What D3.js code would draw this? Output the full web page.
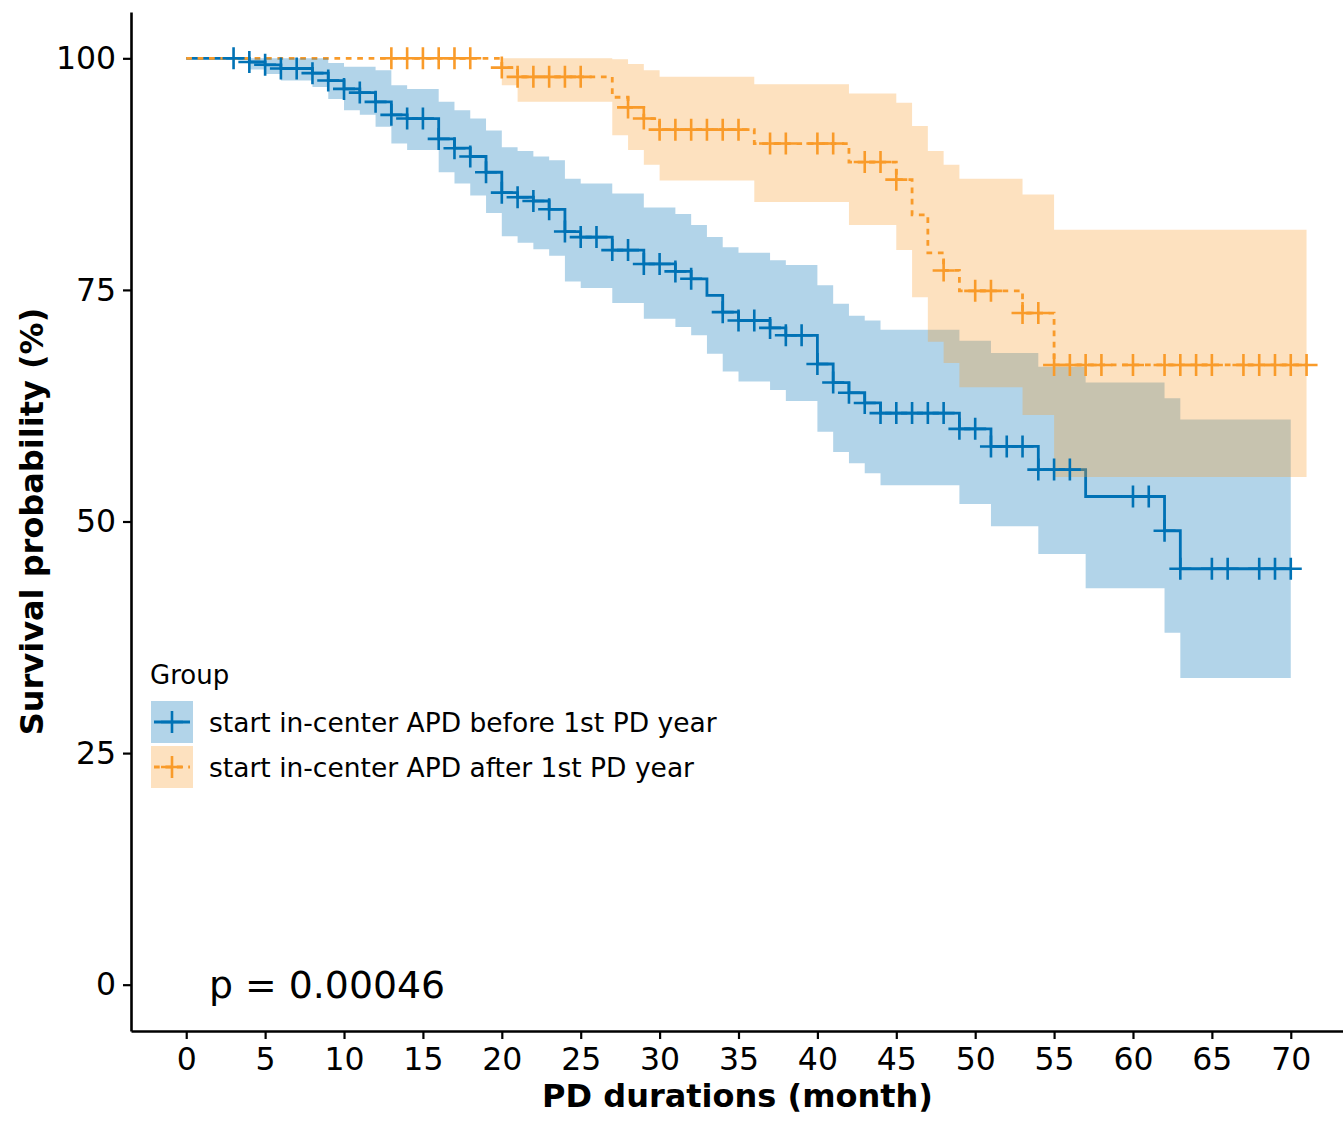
<!DOCTYPE html>
<html>
<head>
<meta charset="utf-8">
<script src="https://cdn.jsdelivr.net/npm/d3@7/dist/d3.min.js"></script>
<style>
  body { margin: 0; background: #fff; }
  text { font-family: "DejaVu Sans", sans-serif; fill: #000; }
</style>
</head>
<body>
<div id="km_svg"></div>
<script>
// groups
var groupNames = ["start in-center APD before 1st PD year", "start in-center APD after 1st PD year"];
var groupColors = ["#0072B5", "#F99B2A"];

// before 1st PD year: step times (month), survival %, 95% CI
var beforeTime  = [0, 4, 5, 6, 8, 9, 10, 11, 12, 13, 14, 16, 17, 18, 19, 20, 21, 22, 23, 24, 25, 27, 29, 31, 32, 33, 34, 35, 37, 38, 40, 41, 42, 43, 44, 49, 51, 54, 57, 62, 63, 70];
var beforeSurv  = [100, 99.6, 99.3, 98.9, 98.4, 97.6, 96.7, 96.3, 95.3, 93.9, 93.5, 91.3, 90.3, 89.4, 87.7, 85.5, 85.0, 84.6, 83.7, 81.3, 80.7, 79.3, 77.8, 77.0, 76.2, 74.4, 72.6, 71.7, 70.9, 70.1, 67.0, 65.0, 63.9, 62.8, 61.7, 60.0, 58.1, 55.6, 52.7, 49.0, 44.9, 44.9];
var beforeLower = [100, 98.8, 98.3, 97.6, 96.9, 95.6, 94.4, 93.9, 92.6, 90.8, 90.1, 87.7, 86.5, 85.2, 83.3, 80.8, 80.1, 79.4, 78.7, 75.9, 75.2, 73.6, 71.9, 71.0, 70.1, 68.1, 66.2, 65.1, 64.2, 63.0, 59.7, 57.5, 56.3, 55.2, 53.9, 51.9, 49.5, 46.5, 42.8, 38.0, 33.1, 33.1];
var beforeUpper = [100, 100, 100, 100, 100, 99.5, 99.1, 99.1, 98.7, 97.1, 96.7, 95.3, 94.4, 93.5, 92.2, 90.4, 90.0, 89.4, 89.0, 87.0, 86.5, 85.4, 83.9, 83.2, 82.0, 80.7, 79.6, 79.0, 78.2, 77.7, 75.5, 73.5, 72.2, 71.7, 70.7, 69.5, 68.2, 66.7, 65.0, 63.3, 61.0, 61.0];
var beforeCensor = [3, 4, 5, 6, 7, 8, 9, 10, 11, 12, 13, 14, 15, 16, 17, 18, 19, 20, 21, 22, 23, 24, 25, 26, 27, 28, 29, 30, 31, 32, 34, 35, 36, 37, 38, 39, 40, 41, 42, 43, 44, 45, 46, 47, 48, 49, 50, 51, 52, 53, 54, 55, 56, 60, 61, 62, 63, 65, 66, 68, 69, 70];

// after 1st PD year
var afterTime  = [0, 20, 21, 27, 28, 29, 30, 36, 42, 45, 46, 47, 48, 49, 53, 55, 71];
var afterSurv  = [100, 99.0, 98.0, 95.8, 94.7, 93.5, 92.3, 90.8, 88.8, 86.9, 83.1, 79.0, 77.1, 74.9, 72.5, 66.9, 66.9];
var afterLower = [100, 97.1, 95.3, 91.7, 90.1, 88.5, 86.8, 84.5, 82.0, 79.3, 74.2, 69.4, 67.1, 64.5, 61.5, 54.8, 54.8];
var afterUpper = [100, 100, 100, 99.9, 99.4, 98.7, 98.0, 97.2, 96.2, 95.2, 92.7, 90.0, 88.5, 87.0, 85.3, 81.5, 81.5];
var afterCensor = [13, 14, 15, 16, 17, 18, 20, 21, 22, 23, 24, 25, 28, 29, 30, 31, 32, 33, 34, 35, 37, 38, 40, 41, 43, 44, 45, 48, 50, 51, 53, 54, 55, 56, 57, 58, 60, 62, 63, 64, 65, 67, 68, 69, 70, 71];

var xTicks = [0, 5, 10, 15, 20, 25, 30, 35, 40, 45, 50, 55, 60, 65, 70];
var yTicks = [0, 25, 50, 75, 100];
var pValueText = "p = 0.00046";

// build a table per group
function makeRows(t, s, lo, up) {
    return t.map(function (d, i) { return { time: d, surv: s[i], lower: lo[i], upper: up[i] }; });
}
var groups = [
    { name: groupNames[0], color: groupColors[0], dash: null, rows: makeRows(beforeTime, beforeSurv, beforeLower, beforeUpper), censor: beforeCensor },
    { name: groupNames[1], color: groupColors[1], dash: "5.7,5.7", rows: makeRows(afterTime, afterSurv, afterLower, afterUpper), censor: afterCensor }
];

var width = 1343, height = 1121;
var panel = { left: 131, right: 1346, top: 12, bottom: 1031 };

var svg = d3.select("#km_svg").append("svg")
    .attr("width", width)
    .attr("height", height)
    .style("background", "#fff");

var xScale = d3.scaleLinear().domain([-3.5, 73.5]).range([panel.left, panel.right]);
var yScale = d3.scaleLinear().domain([-5, 105]).range([panel.bottom, panel.top]);

var line = d3.line()
    .curve(d3.curveStepAfter)
    .x(function (d) { return xScale(d.time); })
    .y(function (d) { return yScale(d.surv); });

var area = d3.area()
    .curve(d3.curveStepAfter)
    .x(function (d) { return xScale(d.time); })
    .y0(function (d) { return yScale(d.lower); })
    .y1(function (d) { return yScale(d.upper); });

// survival value at a censor time
function survAt(rows, t) {
    var i = d3.bisectRight(rows.map(function (d) { return d.time; }), t) - 1;
    return rows[Math.max(i, 0)].surv;
}

// step lines
groups.forEach(function (g) {
    svg.append("path")
        .datum(g.rows)
        .attr("d", line)
        .attr("fill", "none")
        .attr("stroke", g.color)
        .attr("stroke-width", 2.8)
        .attr("stroke-dasharray", g.dash);
});

// confidence ribbons
groups.forEach(function (g) {
    svg.append("path")
        .datum(g.rows)
        .attr("d", area)
        .attr("fill", g.color)
        .attr("fill-opacity", 0.3)
        .attr("stroke", "none");
});

// censor marks
var arm = 11;
groups.forEach(function (g) {
    var marks = svg.append("g").attr("stroke", g.color).attr("stroke-width", 2.6);
    marks.selectAll("path")
        .data(g.censor)
        .enter().append("path")
        .attr("d", function (t) {
            var cx = xScale(t), cy = yScale(survAt(g.rows, t));
            return "M" + (cx - arm) + "," + cy + "H" + (cx + arm) + "M" + cx + "," + (cy - arm) + "V" + (cy + arm);
        });
});

// axes
var xAxis = d3.axisBottom(xScale).tickValues(xTicks).tickSize(8).tickSizeOuter(0).tickPadding(9);
var yAxis = d3.axisLeft(yScale).tickValues(yTicks).tickSize(8).tickSizeOuter(0).tickPadding(7);

var gx = svg.append("g")
    .attr("transform", "translate(0," + panel.bottom + ")")
    .call(xAxis);
var gy = svg.append("g")
    .attr("transform", "translate(" + panel.left + ",0)")
    .call(yAxis);

[gx, gy].forEach(function (g) {
    g.select(".domain").attr("stroke", "#000").attr("stroke-width", 2.6);
    g.selectAll(".tick line").attr("stroke", "#000").attr("stroke-width", 2.2);
    g.selectAll(".tick text")
        .attr("fill", "#000")
        .style("font-family", "DejaVu Sans")
        .style("font-size", "31.5px");
});

// axis titles
svg.append("text")
    .attr("x", (panel.left + panel.right) / 2 - 1)
    .attr("y", 1107)
    .attr("text-anchor", "middle")
    .style("font-size", "32px")
    .style("font-weight", "bold")
    .text("PD durations (month)");

svg.append("text")
    .attr("transform", "translate(43," + ((panel.top + panel.bottom) / 2) + ") rotate(-90)")
    .attr("text-anchor", "middle")
    .style("font-size", "32px")
    .style("font-weight", "bold")
    .text("Survival probability (%)");

// p value
svg.append("text")
    .attr("x", xScale(1.45))
    .attr("y", yScale(0) + 13)
    .style("font-size", "37.8px")
    .text(pValueText);

// legend
var legend = svg.append("g").attr("transform", "translate(150,0)");
legend.append("text")
    .attr("x", 0)
    .attr("y", 684)
    .style("font-size", "26px")
    .text("Group");

groups.forEach(function (g, i) {
    var top = 701 + i * 45, size = 42;
    var k = legend.append("g").attr("transform", "translate(1," + top + ")");
    k.append("rect")
        .attr("width", size).attr("height", size)
        .attr("fill", g.color).attr("fill-opacity", 0.3);
    k.append("line")
        .attr("x1", 3).attr("x2", size - 3)
        .attr("y1", size / 2).attr("y2", size / 2)
        .attr("stroke", g.color).attr("stroke-width", 2.8)
        .attr("stroke-dasharray", g.dash);
    k.append("path")
        .attr("d", "M" + (size / 2 - arm) + "," + (size / 2) + "H" + (size / 2 + arm) +
                   "M" + (size / 2) + "," + (size / 2 - arm) + "V" + (size / 2 + arm))
        .attr("stroke", g.color).attr("stroke-width", 2.6);
    legend.append("text")
        .attr("x", 59)
        .attr("y", top + size / 2 + 9.5)
        .style("font-size", "26.5px")
        .text(g.name);
});
</script>
</body>
</html>
